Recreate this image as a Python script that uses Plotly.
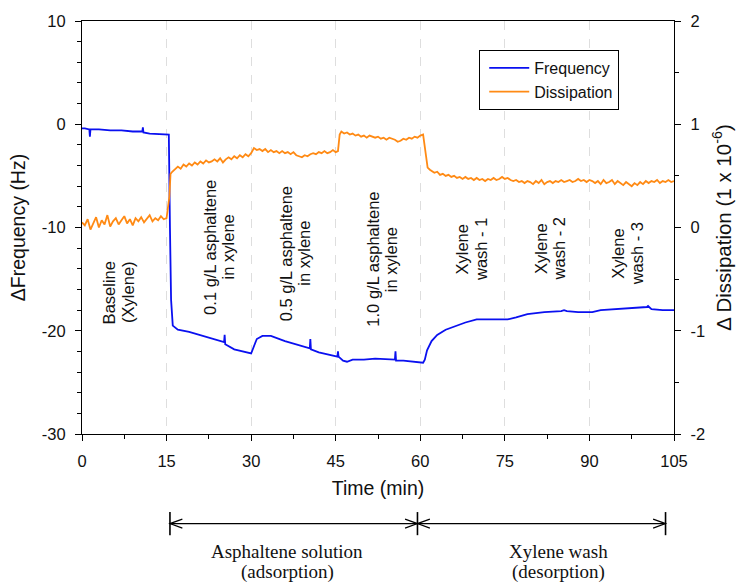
import plotly.graph_objects as go

# ---- Frequency trace (min, Hz) ----
freq_time = [0, 0.5, 1.3, 1.4, 1.5, 3, 5, 7, 9, 10.7, 10.8, 10.9, 12, 14, 15.4,
             15.6, 15.8, 16.1, 17, 19, 21, 23, 25.2, 25.3, 25.4, 27, 29.5, 30,
             30.5, 31, 32, 33.5, 36, 38, 40.4, 40.5, 40.6, 42, 44, 45.3, 45.4,
             45.5, 46.3, 47, 48, 50, 52, 55.5, 55.6, 55.7, 57, 59, 60.5, 60.8,
             61.2, 62, 63, 64.5, 66, 68, 70, 73, 75.5, 77, 79, 82, 85, 85.5, 86,
             88, 90.5, 92, 95, 98, 100.2, 100.4, 101, 103, 105]
freq_value = [-0.4, -0.4, -0.5, -1.2, -0.5, -0.5, -0.6, -0.6, -0.7, -0.7, -0.3,
              -0.8, -0.9, -1.0, -1.0, -10.0, -17.0, -19.5, -19.9, -20.1, -20.4,
              -20.7, -21.1, -20.4, -21.3, -21.8, -22.1, -22.2, -21.5, -20.8,
              -20.5, -20.5, -21.0, -21.3, -21.7, -20.8, -21.8, -22.1, -22.3,
              -22.5, -22.0, -22.5, -22.9, -23.0, -22.8, -22.8, -22.7, -22.8,
              -22.0, -22.9, -22.9, -23.0, -23.1, -22.8, -21.9, -21.0, -20.4,
              -19.9, -19.6, -19.2, -18.9, -18.9, -18.9, -18.7, -18.4, -18.2,
              -18.1, -18.0, -18.1, -18.2, -18.2, -18.0, -17.9, -17.8, -17.7,
              -17.6, -17.9, -18.0, -18.0]

# ---- Dissipation trace (min, 1e-6) ----
diss_time = [0, 0.5, 1, 1.5, 2, 2.5, 3, 3.5, 4, 4.5, 5, 5.5, 6, 6.5, 7, 7.5, 8,
             8.5, 9, 9.5, 10, 10.5, 11, 11.5, 12, 12.5, 13, 13.5, 14, 14.5, 15,
             15.5, 15.7,
             16, 16.5, 17, 17.5, 18, 18.5, 19, 19.5, 20, 20.5, 21, 21.5, 22,
             22.5, 23, 23.5, 24, 24.5, 25, 25.5, 26, 26.5, 27, 27.5, 28, 28.5,
             29, 29.5, 30,
             30.5, 31, 31.5, 32, 32.5, 33, 33.5, 34, 34.5, 35, 35.5, 36, 36.5,
             37, 37.5, 38, 38.5, 39, 39.5, 40, 40.5, 41, 41.5, 42, 42.5, 43,
             43.5, 44, 44.5, 45, 45.4,
             45.7, 46, 46.5, 47, 47.5, 48, 48.5, 49, 49.5, 50, 50.5, 51, 51.5,
             52, 52.5, 53, 53.5, 54, 54.5, 55, 55.5, 56, 56.5, 57, 57.5, 58,
             58.5, 59, 59.5, 60, 60.5,
             61.0, 61.3, 61.7, 62, 62.5, 63, 63.5, 64, 64.5, 65, 65.5, 66, 66.5,
             67, 67.5, 68, 68.5, 69, 69.5, 70, 70.5, 71, 71.5, 72, 72.5, 73,
             73.5, 74, 74.5, 75, 75.5, 76, 76.5, 77, 77.5, 78, 78.5, 79, 79.5,
             80, 80.5, 81, 81.5, 82, 82.5, 83, 83.5, 84, 84.5, 85, 85.5, 86,
             86.5, 87, 87.5, 88, 88.5, 89, 89.5, 90, 90.5, 91, 91.5, 92, 92.5,
             93, 93.5, 94, 94.5, 95, 95.5, 96, 96.5, 97, 97.5, 98, 98.5, 99,
             99.5, 100, 100.5, 101, 101.5, 102, 102.5, 103, 103.5, 104, 104.5,
             105]
diss_value = [0.05, 0.02, 0.08, -0.02, 0.04, 0.10, 0.00, 0.07, 0.03, 0.12, 0.01,
              0.06, 0.09, 0.03, 0.07, 0.11, 0.04, 0.08, 0.02, 0.09, 0.06, 0.10,
              0.05, 0.08, 0.12, 0.06, 0.09, 0.07, 0.11, 0.08, 0.09,
              0.30, 0.52,
              0.54, 0.57, 0.59, 0.57, 0.61, 0.59, 0.62, 0.60, 0.63, 0.61, 0.64,
              0.62, 0.65, 0.63, 0.64, 0.66, 0.64, 0.67, 0.63, 0.66, 0.68, 0.66,
              0.69, 0.67, 0.70, 0.68, 0.71, 0.69, 0.72,
              0.77, 0.75, 0.76, 0.74, 0.76, 0.73, 0.75, 0.73, 0.74, 0.72, 0.74,
              0.72, 0.73, 0.71, 0.73, 0.70, 0.69, 0.68, 0.70, 0.69, 0.71, 0.72,
              0.71, 0.73, 0.72, 0.74, 0.72, 0.73, 0.75, 0.73, 0.74,
              0.90, 0.93, 0.91, 0.92, 0.90, 0.91, 0.89, 0.90, 0.88, 0.89, 0.87,
              0.89, 0.88, 0.87, 0.88, 0.86, 0.87, 0.85, 0.87, 0.86, 0.85, 0.83,
              0.84, 0.86, 0.85, 0.87, 0.86, 0.88, 0.87, 0.89, 0.90,
              0.70, 0.58, 0.56, 0.55, 0.53, 0.54, 0.51, 0.52, 0.50, 0.51, 0.49,
              0.50, 0.48, 0.49, 0.47, 0.49, 0.47, 0.48, 0.46, 0.48, 0.46, 0.47,
              0.45, 0.47, 0.46, 0.48, 0.46, 0.47, 0.49, 0.47, 0.48, 0.46, 0.45,
              0.46, 0.44, 0.45, 0.43, 0.45, 0.44, 0.42, 0.45, 0.43, 0.46, 0.42,
              0.44, 0.45, 0.43, 0.45, 0.44, 0.46, 0.44, 0.45, 0.46, 0.44, 0.45,
              0.47, 0.45, 0.46, 0.44, 0.46, 0.45, 0.43, 0.45, 0.42, 0.46, 0.43,
              0.44, 0.46, 0.42, 0.45, 0.43, 0.41, 0.44, 0.42, 0.40, 0.43, 0.41,
              0.44, 0.42, 0.45, 0.43, 0.45, 0.44, 0.46, 0.43, 0.45, 0.44, 0.46,
              0.44, 0.45]

# ---- Tick labels ----
x_ticks = [0, 15, 30, 45, 60, 75, 90, 105]
y_ticks = [-30, -20, -10, 0, 10]
y2_ticks = [-2, -1, 0, 1, 2]

# ---- Stage labels (text, time, frequency position) ----
stage_labels = ["Baseline<br>(Xylene)",
                "0.1 g/L asphaltene<br>in xylene",
                "0.5 g/L asphaltene<br>in xylene",
                "1.0 g/L asphaltene<br>in xylene",
                "Xylene<br>wash - 1", "Xylene<br>wash - 2", "Xylene<br>wash - 3"]
stage_x = [6.4, 24.3, 37.8, 53.1, 69.1, 83.0, 96.8]
stage_y = [-16.3, -11.9, -12.5, -13.1, -12.1, -12.1, -12.6]

# ---- Bottom phase brackets ----
bracket_ends = [15.6, 59.5, 103.5]
phase_labels = ["Asphaltene solution<br>(adsorption)", "Xylene wash<br>(desorption)"]
phase_x = [36.4, 84.6]

BLUE = "#0a10f0"
ORANGE = "#ff8a14"
FONT = "Liberation Sans, Arial, sans-serif"
SERIF = "Liberation Serif, Times New Roman, serif"
TXT = "#111111"


def lab(v):
    return str(v).replace("\u2212", "-")


fig = go.Figure()
fig.add_trace(go.Scatter(x=freq_time, y=freq_value, mode="lines", name="Frequency",
                         line=dict(color=BLUE, width=1.8)))
fig.add_trace(go.Scatter(x=diss_time, y=diss_value, mode="lines", name="Dissipation",
                         line=dict(color=ORANGE, width=1.8), yaxis="y2"))

annotations = []
# rotated two-line stage labels, each line placed separately for tight line spacing
for txt, x, y in zip(stage_labels, stage_x, stage_y):
    lines = txt.split("<br>")
    n = len(lines)
    for i, ln in enumerate(lines):
        annotations.append(dict(x=x, y=y, xref="x", yref="y", text=ln, showarrow=False,
                                textangle=-90, font=dict(family=FONT, size=16.5, color=TXT),
                                xanchor="center", yanchor="middle",
                                xshift=(i - (n - 1) / 2) * 18.5))

# bracket geometry in paper coordinates
ybar = -0.217
half_bar = 0.028
head_len = 2.2   # in minutes
head_h = 0.011
shapes = []
shapes.append(dict(type="line", xref="x", yref="paper", x0=bracket_ends[0], x1=bracket_ends[2],
                   y0=ybar, y1=ybar, line=dict(color="black", width=1.2)))
for xe in bracket_ends:
    shapes.append(dict(type="line", xref="x", yref="paper", x0=xe, x1=xe,
                       y0=ybar - half_bar, y1=ybar + half_bar, line=dict(color="black", width=1.6)))
for tip, d in [(bracket_ends[0], 1), (bracket_ends[1], -1), (bracket_ends[1], 1), (bracket_ends[2], -1)]:
    shapes.append(dict(type="path", xref="x", yref="paper",
                       path=f"M {tip + d*head_len},{ybar + head_h} L {tip},{ybar} L {tip + d*head_len},{ybar - head_h}",
                       line=dict(color="black", width=1.2)))

for txt, xm in zip(phase_labels, phase_x):
    l1, l2 = txt.split("<br>")
    for ln, yy in [(l1, -0.284), (l2, -0.335)]:
        annotations.append(dict(x=xm, y=yy, xref="x", yref="paper", text=ln, showarrow=False,
                                font=dict(family=SERIF, size=19, color=TXT),
                                xanchor="center", yanchor="middle"))

axis_common = dict(ticks="outside", ticklen=6, tickwidth=1.2, tickcolor="black",
                   showline=True, linecolor="black", linewidth=1.2, zeroline=False,
                   tickfont=dict(family=FONT, size=16.5, color=TXT))

fig.update_layout(
    width=748, height=584,
    margin=dict(l=82, r=74, t=18, b=150),
    paper_bgcolor="white", plot_bgcolor="white",
    font=dict(family=FONT, size=16, color=TXT),
    showlegend=True,
    legend=dict(x=0.671, y=0.930, xanchor="left", yanchor="top",
                bordercolor="black", borderwidth=1, bgcolor="white",
                font=dict(family=FONT, size=16, color=TXT),
                itemwidth=40, tracegroupgap=0, indentation=4,
                entrywidth=120, entrywidthmode="pixels"),
    xaxis=dict(range=[0, 105], tickvals=x_ticks, ticktext=[lab(v) for v in x_ticks],
               minor=dict(dtick=7.5, tick0=0, ticks="outside", ticklen=4, tickcolor="black", showgrid=False),
               mirror=True, showgrid=True, griddash="dash", gridcolor="#dedede", gridwidth=1,
               ticklabelstandoff=6,
               title=dict(text="Time (min)", font=dict(size=19.5), standoff=12),
               **axis_common),
    yaxis=dict(range=[-30, 10], tickvals=y_ticks, ticktext=[lab(v) for v in y_ticks],
               minor=dict(dtick=2, tick0=0, ticks="outside", ticklen=4, tickcolor="black", showgrid=False),
               showgrid=False, ticklabelstandoff=6,
               title=dict(text="ΔFrequency (Hz)", font=dict(size=19.5), standoff=10),
               **axis_common),
    yaxis2=dict(range=[-2, 2], tickvals=y2_ticks, ticktext=[lab(v) for v in y2_ticks],
                overlaying="y", side="right",
                minor=dict(dtick=0.5, tick0=0, ticks="outside", ticklen=4, tickcolor="black", showgrid=False),
                showgrid=False, ticklabelstandoff=6,
                title=dict(text="Δ Dissipation (1 x 10<sup>-6</sup>)", font=dict(size=20.5), standoff=12),
                **axis_common),
    annotations=annotations,
    shapes=shapes,
)

fig.write_html("out.html")
